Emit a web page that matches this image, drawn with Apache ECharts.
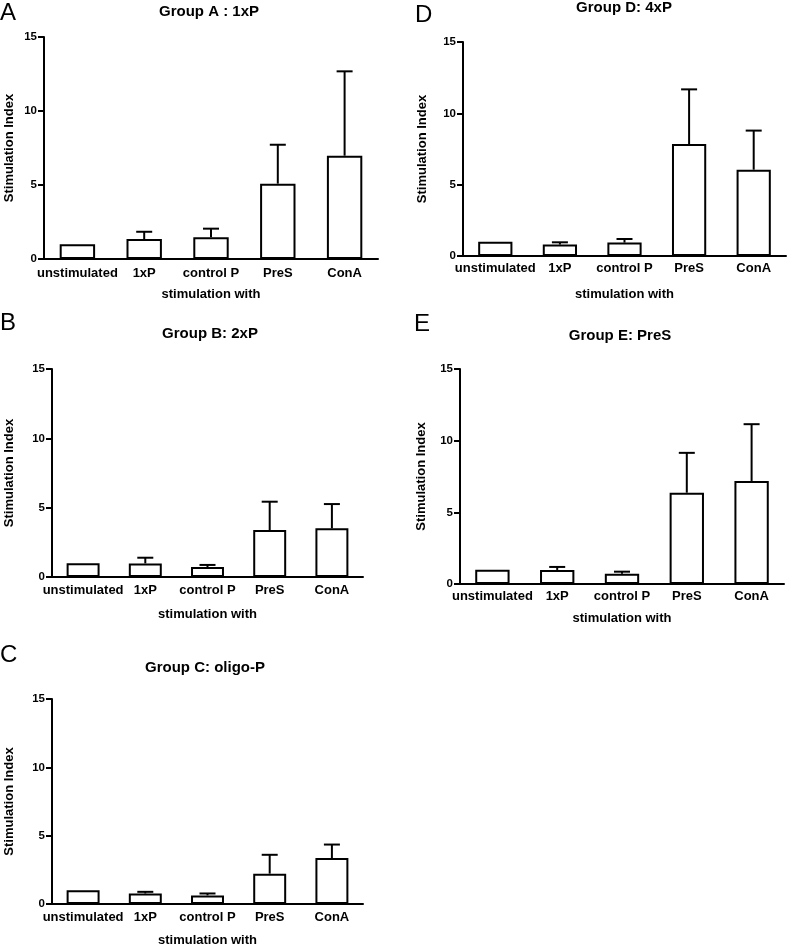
<!DOCTYPE html>
<html>
<head>
<meta charset="utf-8">
<script src="https://cdn.jsdelivr.net/npm/echarts@6/dist/echarts.min.js"></script>
<style>
html,body{margin:0;padding:0;background:#fff;}
#chart{width:788px;height:948px;}
</style>
</head>
<body>
<div id="chart"></div>
<script>
// ---- data ----
const categories = ['unstimulated', '1xP', 'control P', 'PreS', 'ConA'];
const panelLetters = ['A', 'D', 'B', 'E', 'C'];
const panelTitles = ['Group A : 1xP', 'Group D: 4xP', 'Group B: 2xP', 'Group E: PreS', 'Group C: oligo-P'];
const yAxisTitle = 'Stimulation Index';
const xAxisTitle = 'stimulation with';
const yMin = 0, yMax = 15, yStep = 5;

const meanA = [1.0, 1.35, 1.47, 5.09, 6.98];
const errA  = [0, 0.49, 0.58, 2.63, 5.70];
const meanD = [1.0, 0.80, 0.94, 7.85, 6.05];
const errD  = [0, 0.16, 0.25, 3.83, 2.74];
const meanB = [1.0, 0.98, 0.72, 3.39, 3.51];
const errB  = [0, 0.41, 0.15, 2.04, 1.75];
const meanE = [1.0, 0.98, 0.72, 6.37, 7.19];
const errE  = [0, 0.21, 0.14, 2.78, 3.96];
const meanC = [1.0, 0.77, 0.63, 2.22, 3.36];
const errC  = [0, 0.12, 0.14, 1.38, 0.99];

const means = [meanA, meanD, meanB, meanE, meanC];
const errs = [errA, errD, errB, errE, errC];

// ---- layout (positions only) ----
const layout = [
  {left: 44, top: 37, width: 334, height: 222, yGap: 28, xGap: 29, lblMargin: 8, title: [209, 12], letter: [0, 1]},
  {left: 463, top: 42, width: 323, height: 214, yGap: 34, xGap: 32, lblMargin: 6, title: [624, 8], letter: [415, 3]},
  {left: 52, top: 369, width: 311, height: 208, yGap: 36, xGap: 31, lblMargin: 7, title: [210, 334], letter: [0, 311]},
  {left: 460, top: 369, width: 324, height: 215, yGap: 32, xGap: 28, lblMargin: 6, title: [620, 336], letter: [414, 312]},
  {left: 52, top: 699, width: 311, height: 207, yGap: 36, xGap: 30, lblMargin: 7, title: [205, 668], letter: [0, 643]}
];

const FONT = 'Liberation Sans, Arial, sans-serif';
const grid = [], xAxis = [], yAxis = [], series = [], graphic = [];

layout.forEach((L, k) => {
  grid.push({left: L.left, top: L.top, width: L.width, height: L.height, containLabel: false});
  xAxis.push({
    type: 'category', gridIndex: k, data: categories,
    name: xAxisTitle, nameLocation: 'middle', nameGap: L.xGap,
    nameTextStyle: {fontFamily: FONT, fontWeight: 'bold', fontSize: 13, color: '#000'},
    axisLine: {lineStyle: {color: '#000', width: 2}},
    axisTick: {alignWithLabel: true, length: 6, lineStyle: {color: '#000', width: 2}},
    axisLabel: {fontFamily: FONT, fontWeight: 'bold', fontSize: 13, color: '#000', margin: L.lblMargin, interval: 0},
    splitLine: {show: false}
  });
  yAxis.push({
    type: 'value', gridIndex: k, min: yMin, max: yMax, interval: yStep,
    name: yAxisTitle, nameLocation: 'middle', nameGap: L.yGap,
    nameTextStyle: {fontFamily: FONT, fontWeight: 'bold', fontSize: 13, color: '#000'},
    axisLine: {show: true, lineStyle: {color: '#000', width: 2}},
    axisTick: {show: true, length: 6, lineStyle: {color: '#000', width: 2}},
    axisLabel: {fontFamily: FONT, fontWeight: 'bold', fontSize: 11.5, color: '#000', margin: 7},
    splitLine: {show: false}
  });
  series.push({
    type: 'bar', xAxisIndex: k, yAxisIndex: k, barWidth: '53%',
    data: means[k],
    itemStyle: {color: '#fff', borderColor: '#000', borderWidth: 2},
    silent: true, animation: false
  });
  series.push({
    type: 'custom', xAxisIndex: k, yAxisIndex: k, z: 5,
    data: means[k].map((m, i) => [i, m, errs[k][i]]),
    encode: {x: 0, y: 1},
    renderItem: function (params, api) {
      const i = api.value(0), m = api.value(1), e = api.value(2);
      if (!e) return null;
      const p0 = api.coord([i, m]);
      const p1 = api.coord([i, m + e]);
      const st = {stroke: '#000', lineWidth: 2};
      return {type: 'group', children: [
        {type: 'line', shape: {x1: p0[0], y1: p0[1], x2: p1[0], y2: p1[1]}, style: st},
        {type: 'line', shape: {x1: p1[0] - 8, y1: p1[1], x2: p1[0] + 8, y2: p1[1]}, style: st}
      ]};
    },
    silent: true, animation: false
  });
  graphic.push({
    type: 'text', left: L.letter[0], top: L.letter[1],
    style: {text: panelLetters[k], font: 'normal 24px ' + FONT, fill: '#000'}
  });
});

const title = layout.map((L, k) => ({
  text: panelTitles[k], left: L.title[0], top: L.title[1] - 8, textAlign: 'center',
  padding: 0,
  textStyle: {fontFamily: FONT, fontWeight: 'bold', fontSize: 15, color: '#000'}
}));

const chart = echarts.init(document.getElementById('chart'), null, {renderer: 'canvas'});
chart.setOption({
  backgroundColor: '#fff',
  animation: false,
  title: title,
  grid: grid, xAxis: xAxis, yAxis: yAxis, series: series, graphic: graphic
});
</script>
</body>
</html>
